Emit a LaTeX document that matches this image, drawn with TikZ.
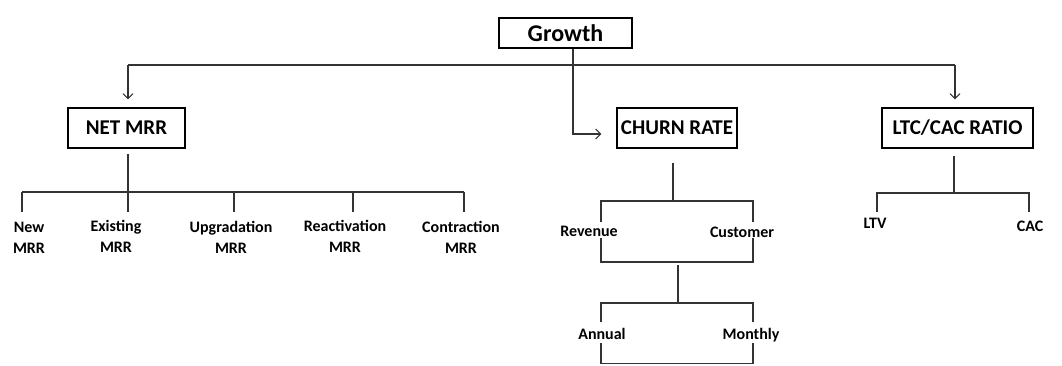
\documentclass[tikz,border=0pt]{standalone}
\usepackage{fontspec}
\setmainfont{Carlito}
\usetikzlibrary{arrows.meta}
\begin{document}
\begin{tikzpicture}[x=1pt, y=-1pt,
    box/.style={draw, line width=1.1pt, inner sep=0pt, minimum height=40pt, font=\bfseries\fontsize{21}{25}\selectfont},
    leaf/.style={inner sep=0pt, align=center, font=\bfseries\fontsize{16}{21}\selectfont},
    link/.style={line width=1.1pt, draw=black!80},
    arr/.style={link, -{Straight Barb[length=5pt,width=10pt]}}]
    \useasboundingbox (0,0) rectangle (1062,365);

    % Nodes
    \node[box, minimum width=133pt, minimum height=30pt, font=\bfseries\fontsize{24}{28}\selectfont] (Growth) at (565.5,33) {Growth};
    \node[box, minimum width=117pt] (NetMRR) at (126.5,128) {NET MRR};
    \node[box, minimum width=120pt] (ChurnRate) at (677,128) {CHURN RATE};
    \node[box, minimum width=151pt] (LtcCac) at (957.5,128) {LTC/CAC RATIO};

    \foreach \x/\y/\name/\txt in {29/238/New/New, 116/236/Existing/Existing, 231/237/Upgradation/Upgradation, 345/236/Reactivation/Reactivation, 461/237/Contraction/Contraction}
        \node[leaf] (\name) at (\x,\y) {\txt\\MRR};

    \node[leaf] (Revenue) at (589,231) {Revenue};
    \node[leaf] (Customer) at (742,232) {Customer};
    \node[leaf] (Annual) at (602,334) {Annual};
    \node[leaf] (Monthly) at (751,335) {Monthly};
    \node[leaf] (LTV) at (875,223) {LTV};
    \node[leaf] (CAC) at (1030,226) {CAC};

    % Edges from Growth
    \coordinate (TopL) at (128,65);
    \coordinate (TopR) at (955,65);
    \draw[link] (TopL) -- (TopR);
    \draw[arr, shorten >=8pt] (TopL) -- (TopL |- NetMRR.north);
    \draw[arr, shorten >=8pt] (TopR) -- (TopR |- LtcCac.north);
    \draw[arr] ([xshift=7.5pt]Growth.south) |- ([xshift=-15pt,yshift=-6pt]ChurnRate.west);

    % NET MRR branch
    \coordinate (MrrBar) at (128,192);
    \coordinate (MrrBarL) at (22,192);
    \coordinate (MrrBarR) at (464,192);
    \draw[link, shorten <=5pt] ([xshift=1.5pt]NetMRR.south) -- (MrrBar);
    \draw[link] (MrrBarL) -- (MrrBarR);
    \foreach \tx/\name in {22/New, 128/Existing, 234/Upgradation, 353/Reactivation, 464/Contraction} {
        \coordinate (\name-t) at (\tx,211.5);
        \draw[link] (\name-t |- MrrBar) -- (\name-t);
    }

    % CHURN RATE branch
    \coordinate (ChurnBar) at (673,201);
    \coordinate (RevA) at (601,222);
    \coordinate (CusA) at (753,222);
    \draw[link, shorten <=14pt] ([xshift=-4pt]ChurnRate.south) -- (ChurnBar);
    \draw[link] (RevA) |- (ChurnBar) -| (CusA);

    \coordinate (RevB) at (601,238);
    \coordinate (CusB) at (753,238);
    \coordinate (TypeBar) at (678,262);
    \draw[link] (RevB) |- (TypeBar) -| (CusB);

    \coordinate (PeriodBar) at (678,303);
    \coordinate (AnnA) at (601,322);
    \coordinate (MonA) at (753,322);
    \draw[link, shorten <=3pt] (TypeBar) -- (PeriodBar);
    \draw[link] (AnnA) |- (PeriodBar) -| (MonA);

    \coordinate (PeriodEnd) at (678,363.5);
    \coordinate (AnnB) at (601,343);
    \coordinate (MonB) at (753,343);
    \draw[link] (AnnB) |- (PeriodEnd) -| (MonB);

    % LTC/CAC RATIO branch
    \coordinate (RatioBar) at (954,193);
    \coordinate (LtvA) at (877,212);
    \coordinate (CacA) at (1029,212);
    \draw[link, shorten <=7pt] ([xshift=-3.5pt]LtcCac.south) -- (RatioBar);
    \draw[link] (LtvA) |- (RatioBar) -| (CacA);
\end{tikzpicture}
\end{document}
